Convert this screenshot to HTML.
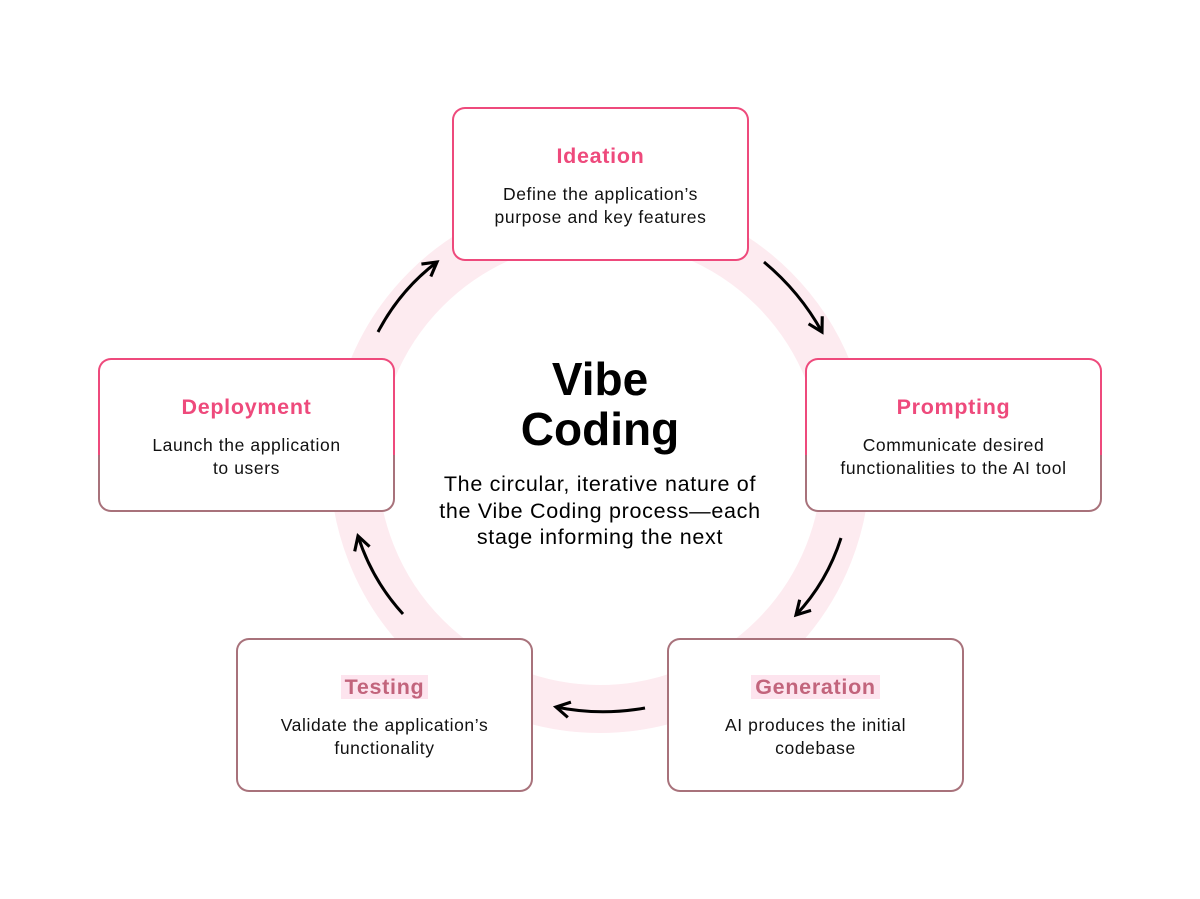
<!DOCTYPE html>
<html><head><meta charset="utf-8"><style>
html,body{margin:0;padding:0;background:#fff;}
body{width:1200px;height:899px;position:relative;overflow:hidden;font-family:"Liberation Sans",sans-serif;}
.box{position:absolute;width:297px;height:154px;box-sizing:border-box;border:2.5px solid transparent;border-radius:13px;text-align:center;}
.pink{background:linear-gradient(#fff,#fff) padding-box,#ee4a7c border-box;}
.mix{background:linear-gradient(#fff,#fff) padding-box,linear-gradient(to bottom,#ee4a7c 0 63%,#a8727b 63%) border-box;}
.brown{background:linear-gradient(#fff,#fff) padding-box,#a8727b border-box;}
.t{position:absolute;left:0;right:0;top:34px;font-weight:bold;font-size:21.5px;letter-spacing:0.7px;color:#ee4a7c;line-height:26px;}
.brown .t{color:#c2647c;}
.brown .t span{background:#fde4ee;padding:0 4px;}
.d{position:absolute;left:0;right:0;top:74px;font-size:17.5px;letter-spacing:0.6px;line-height:23px;color:#111;}
.center{position:absolute;left:380px;width:440px;text-align:center;color:#000;}
</style></head><body>
<svg width="1200" height="899" style="position:absolute;left:0;top:0">
<defs><marker id="a" viewBox="0 0 10 10" refX="8" refY="5" markerWidth="6.5" markerHeight="6.5" orient="auto"><path d="M1,1 L8,5 L1,9" fill="none" stroke="#000" stroke-width="1.6"/></marker></defs>
<circle cx="600" cy="463" r="246" fill="none" stroke="#fdebf0" stroke-width="48"/>
<g fill="none" stroke="#000" stroke-width="3" marker-end="url(#a)">
<path d="M764,262 Q800,292 822,332"/>
<path d="M841,538 Q827,582 796,615"/>
<path d="M645,708 Q600,716 556,707"/>
<path d="M403,614 Q372,580 358,536"/>
<path d="M378,332 Q400,290 437,262"/>
</g>
</svg>
<div class="box pink" style="left:452px;top:107px"><div class="t">Ideation</div><div class="d">Define the application’s<br>purpose and key features</div></div>
<div class="box mix" style="left:805px;top:358px"><div class="t">Prompting</div><div class="d">Communicate desired<br>functionalities to the AI tool</div></div>
<div class="box mix" style="left:98px;top:358px"><div class="t">Deployment</div><div class="d">Launch the application<br>to users</div></div>
<div class="box brown" style="left:236px;top:638px"><div class="t"><span>Testing</span></div><div class="d">Validate the application’s<br>functionality</div></div>
<div class="box brown" style="left:667px;top:638px"><div class="t"><span>Generation</span></div><div class="d">AI produces the initial<br>codebase</div></div>
<div class="center" style="top:354px;font-size:46px;font-weight:bold;line-height:50px;">Vibe<br>Coding</div>
<div class="center" style="top:471px;font-size:21.5px;letter-spacing:0.7px;line-height:26.5px;">The circular, iterative nature of<br>the Vibe Coding process—each<br>stage informing the next</div>
</body></html>
